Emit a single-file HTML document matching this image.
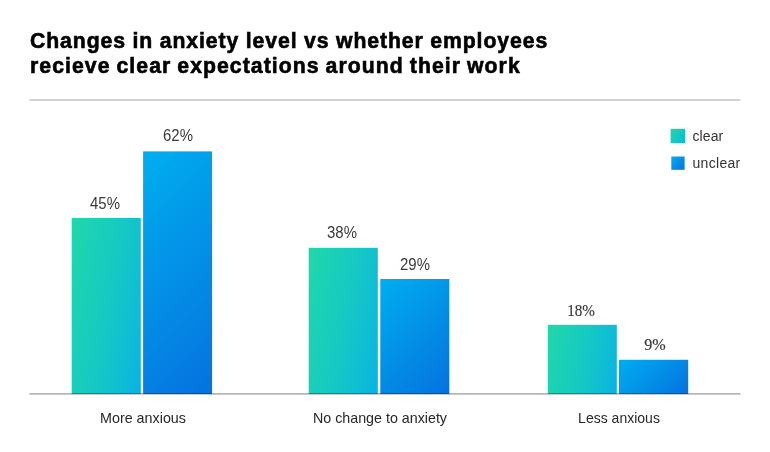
<!DOCTYPE html>
<html lang="en">
<head>
<meta charset="utf-8">
<title>Changes in anxiety level vs whether employees recieve clear expectations around their work</title>
<style>
html,body{margin:0;padding:0;background:#fff;}
body{width:770px;height:452px;position:relative;overflow:hidden;font-family:"Liberation Sans",sans-serif;color:#333;}
#shapes{position:absolute;left:0;top:0;}
.t{position:absolute;white-space:nowrap;line-height:1;}
.title{left:30px;font-weight:bold;font-size:21.2px;color:#000;-webkit-text-stroke:0.6px #000;}
.val{font-size:16px;color:#3a3a3a;transform:translateX(-50%) scaleX(0.935);}
.serif{font-family:"Liberation Serif",serif;font-size:17px;-webkit-text-stroke:0.2px #3a3a3a;}
.cat{font-size:15px;color:#282828;}
.leg{font-size:14px;color:#333;left:692.5px;}
</style>
</head>
<body>
<svg id="shapes" width="770" height="452" viewBox="0 0 770 452">
  <defs>
    <linearGradient id="g0" gradientUnits="userSpaceOnUse" x1="56.48" y1="296.32" x2="156.02" y2="315.68"><stop offset="0" stop-color="#20d8aa"/><stop offset="0.5" stop-color="#16c9c2"/><stop offset="0.8" stop-color="#0fbdd5"/><stop offset="1" stop-color="#08b2e6"/></linearGradient>
    <linearGradient id="g1" gradientUnits="userSpaceOnUse" x1="99.70" y1="194.80" x2="255.50" y2="350.60"><stop offset="0" stop-color="#00aeef"/><stop offset="1" stop-color="#0572df"/></linearGradient>
    <linearGradient id="g2" gradientUnits="userSpaceOnUse" x1="296.27" y1="311.77" x2="390.23" y2="330.03"><stop offset="0" stop-color="#20d8aa"/><stop offset="0.5" stop-color="#16c9c2"/><stop offset="0.8" stop-color="#0fbdd5"/><stop offset="1" stop-color="#08b2e6"/></linearGradient>
    <linearGradient id="g3" gradientUnits="userSpaceOnUse" x1="368.80" y1="290.50" x2="460.80" y2="382.50"><stop offset="0" stop-color="#00aeef"/><stop offset="1" stop-color="#0572df"/></linearGradient>
    <linearGradient id="g4" gradientUnits="userSpaceOnUse" x1="542.58" y1="351.68" x2="622.02" y2="367.12"><stop offset="0" stop-color="#20d8aa"/><stop offset="0.5" stop-color="#16c9c2"/><stop offset="0.8" stop-color="#0fbdd5"/><stop offset="1" stop-color="#08b2e6"/></linearGradient>
    <linearGradient id="g5" gradientUnits="userSpaceOnUse" x1="627.67" y1="351.03" x2="679.42" y2="402.78"><stop offset="0" stop-color="#00aeef"/><stop offset="1" stop-color="#0572df"/></linearGradient>
    <linearGradient id="g6" gradientUnits="userSpaceOnUse" x1="669.67" y1="130.13" x2="686.13" y2="141.67"><stop offset="0" stop-color="#20d8aa"/><stop offset="0.5" stop-color="#16c9c2"/><stop offset="0.8" stop-color="#0fbdd5"/><stop offset="1" stop-color="#08b2e6"/></linearGradient>
    <linearGradient id="g7" gradientUnits="userSpaceOnUse" x1="671.30" y1="156.50" x2="684.60" y2="169.80"><stop offset="0" stop-color="#00aeef"/><stop offset="1" stop-color="#0572df"/></linearGradient>
  </defs>
  <rect x="29.4" y="98.95" width="711.1" height="2.05" fill="#d3d3d3"/>
  <rect x="71.7" y="218.0" width="69.1" height="176.0" fill="url(#g0)"/>
  <rect x="143.1" y="151.4" width="69.0" height="242.6" fill="url(#g1)"/>
  <rect x="308.7" y="247.8" width="69.1" height="146.2" fill="url(#g2)"/>
  <rect x="380.3" y="279.0" width="69.0" height="115.0" fill="url(#g3)"/>
  <rect x="547.8" y="324.8" width="69.0" height="69.2" fill="url(#g4)"/>
  <rect x="618.9" y="359.8" width="69.3" height="34.2" fill="url(#g5)"/>
  <rect x="29.4" y="393.05" width="711.1" height="1.65" fill="#000" fill-opacity="0.3"/>
  <rect x="670.6" y="128.8" width="14.6" height="14.2" fill="url(#g6)"/>
  <rect x="671.3" y="156.5" width="13.3" height="13.3" fill="url(#g7)"/>
</svg>

<div class="t title" id="t1" style="top:29.5px;letter-spacing:0.93px;word-spacing:-0.3px;">Changes in anxiety level vs whether employees</div>
<div class="t title" id="t2" style="top:55px;letter-spacing:1.07px;word-spacing:-1px;">recieve clear expectations around their work</div>

<div class="t val" id="v62" style="left:177.8px;top:128px;">62%</div>
<div class="t val" id="v45" style="left:104.7px;top:196px;">45%</div>
<div class="t val" id="v38" style="left:341.6px;top:225px;">38%</div>
<div class="t val" id="v29" style="left:415px;top:257px;">29%</div>
<div class="t val serif" id="v18" style="left:581px;top:302px;transform:translateX(-50%) scaleX(0.89);">18%</div>
<div class="t val serif" id="v9" style="left:654.5px;top:336px;transform:translateX(-50%) scaleX(0.95);">9%</div>

<div class="t cat" id="c1" style="left:142.6px;top:410px;transform:translateX(-50%) scaleX(0.955);">More anxious</div>
<div class="t cat" id="c2" style="left:380px;top:410px;transform:translateX(-50%) scaleX(0.951);">No change to anxiety</div>
<div class="t cat" id="c3" style="left:618.7px;top:410px;transform:translateX(-50%) scaleX(0.934);">Less anxious</div>

<div class="t leg" id="l1" style="top:129px;letter-spacing:0.1px;">clear</div>
<div class="t leg" id="l2" style="top:156px;letter-spacing:0.3px;">unclear</div>
</body>
</html>
